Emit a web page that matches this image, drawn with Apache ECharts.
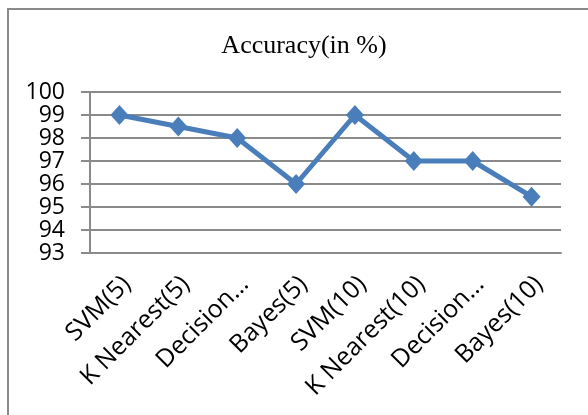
<!DOCTYPE html>
<html>
<head>
<meta charset="utf-8">
<script src="https://cdn.jsdelivr.net/npm/echarts@6/dist/echarts.min.js"></script>
<style>
  html, body { margin: 0; padding: 0; background: #fff; }
  #myChart { width: 588px; height: 415px; }
</style>
</head>
<body>
<div id="myChart"></div>
<script type="text/javascript">
// values
var categories = ['SVM(5)', 'K Nearest(5)', 'Decision…', 'Bayes(5)', 'SVM(10)', 'K Nearest(10)', 'Decision…', 'Bayes(10)']
var accuracy = [99, 98.5, 98, 96, 99, 97, 97, 95.45]
var yMin = 93
var yMax = 100
var yStep = 1

var myChart = echarts.init(document.getElementById('myChart'))
var gray = '#8a8a8a'
myChart.setOption({
    animation: false,
    title: {
        text: 'Accuracy(in %)',
        left: 299,
        top: 28,
        textAlign: 'center',
        textStyle: {
            fontFamily: 'Liberation Serif',
            fontSize: 26,
            fontWeight: 'normal',
            color: '#000'
        }
    },
    graphic: [{
        type: 'rect',
        shape: { x: 8, y: 9, width: 620, height: 440 },
        style: { fill: 'none', stroke: gray, lineWidth: 2 },
        silent: true
    }],
    grid: { left: 90, right: 27, top: 92, bottom: 162 },
    xAxis: {
        type: 'category',
        data: categories,
        boundaryGap: true,
        axisLine: { lineStyle: { color: gray, width: 2 } },
        axisTick: { length: 8, lineStyle: { color: gray, width: 2 } },
        axisLabel: {
            rotate: 45,
            interval: 0,
            margin: 20,
            align: 'right',
            verticalAlign: 'top',
            lineHeight: 21,
            color: '#000',
            fontFamily: 'Open Sans',
            fontSize: 25
        }
    },
    yAxis: {
        type: 'value',
        min: yMin,
        max: yMax,
        interval: yStep,
        axisLine: { show: true, lineStyle: { color: gray, width: 2 } },
        axisTick: { show: true, length: 9, lineStyle: { color: gray, width: 2 } },
        splitLine: { lineStyle: { color: gray, width: 2 } },
        axisLabel: {
            margin: 25,
            color: '#000',
            fontFamily: 'Open Sans',
            fontSize: 23
        }
    },
    series: [{
        type: 'line',
        data: accuracy,
        symbol: 'diamond',
        symbolSize: [18, 20],
        itemStyle: { color: '#4A7EBB' },
        lineStyle: { color: '#4A7EBB', width: 5 }
    }]
})
</script>
</body>
</html>
